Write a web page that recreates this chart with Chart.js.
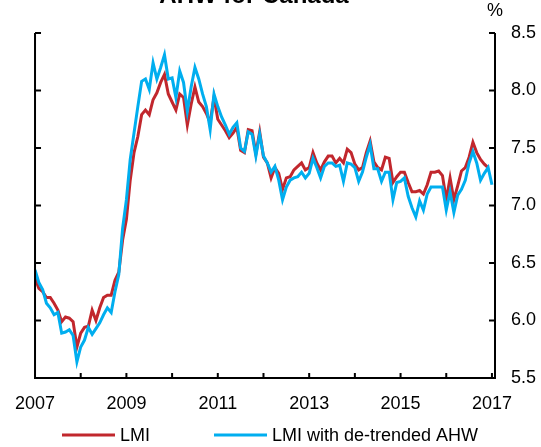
<!DOCTYPE html>
<html>
<head>
<meta charset="utf-8">
<script src="https://cdn.jsdelivr.net/npm/chart.js@4/dist/chart.umd.min.js"></script>
<style>
  html, body { margin: 0; padding: 0; background: #fff; }
</style>
</head>
<body>
<canvas id="chart" width="541" height="447"></canvas>
<script>
'use strict'

const FONT = '"Liberation Sans", Arial, sans-serif';

// monthly, Jan 2007 onwards
const startYear = 2007;
const xTickYears = [2007, 2008, 2009, 2010, 2011, 2012, 2013, 2014, 2015, 2016, 2017];
const yTicks = [5.5, 6.0, 6.5, 7.0, 7.5, 8.0, 8.5];

const lmi = [
  6.37, 6.28, 6.25, 6.20, 6.20, 6.15, 6.09, 5.99, 6.03, 6.02, 5.99, 5.77,
  5.89, 5.94, 5.95, 6.09, 6.00, 6.11, 6.20, 6.22, 6.22, 6.35, 6.42, 6.70,
  6.88, 7.22, 7.46, 7.60, 7.79, 7.83, 7.79, 7.92, 7.98, 8.07, 8.14, 7.97,
  7.90, 7.83, 7.97, 7.94, 7.70, 7.88, 8.03, 7.90, 7.86, 7.80, 7.72, 7.94,
  7.75, 7.70, 7.65, 7.59, 7.63, 7.68, 7.48, 7.46, 7.66, 7.65, 7.45, 7.64,
  7.42, 7.37, 7.24, 7.33, 7.28, 7.14, 7.24, 7.25, 7.31, 7.34, 7.37, 7.31,
  7.33, 7.46, 7.37, 7.31, 7.38, 7.43, 7.43, 7.37, 7.41, 7.37, 7.49, 7.46,
  7.36, 7.31, 7.33, 7.46, 7.56, 7.38, 7.33, 7.31, 7.42, 7.41, 7.20, 7.25,
  7.29, 7.29, 7.20, 7.12, 7.12, 7.13, 7.10, 7.18, 7.29, 7.29, 7.30, 7.26,
  7.05, 7.24, 7.05, 7.17, 7.30, 7.33, 7.42, 7.55, 7.46, 7.40, 7.36, 7.33
];

const lmiAhw = [
  6.44, 6.33, 6.27, 6.15, 6.11, 6.05, 6.07, 5.89, 5.90, 5.92, 5.87, 5.64,
  5.77, 5.83, 5.94, 5.88, 5.93, 5.98, 6.05, 6.11, 6.07, 6.25, 6.40, 6.80,
  7.05, 7.40, 7.63, 7.86, 8.08, 8.10, 8.01, 8.24, 8.10, 8.20, 8.31, 8.10,
  8.11, 7.94, 8.17, 8.07, 7.82, 8.03, 8.20, 8.10, 7.97, 7.86, 7.66, 7.97,
  7.86, 7.77, 7.70, 7.62, 7.68, 7.72, 7.50, 7.47, 7.64, 7.62, 7.43, 7.62,
  7.43, 7.37, 7.29, 7.34, 7.22, 7.05, 7.16, 7.22, 7.24, 7.25, 7.29, 7.24,
  7.28, 7.41, 7.33, 7.24, 7.34, 7.37, 7.37, 7.34, 7.35, 7.21, 7.37, 7.36,
  7.33, 7.21, 7.29, 7.42, 7.53, 7.32, 7.32, 7.21, 7.29, 7.29, 7.05, 7.20,
  7.21, 7.24, 7.08, 6.98, 6.90, 7.04, 6.96, 7.10, 7.16, 7.16, 7.16, 7.16,
  6.96, 7.12, 6.94, 7.09, 7.14, 7.22, 7.37, 7.47, 7.37, 7.22, 7.28, 7.33,
  7.18
];

const toPoints = arr => arr.map((v, i) => ({x: i, y: v}));

// axes with inward ticks, title, % unit and the legend
const decorations = {
  id: 'decorations',
  afterDatasetsDraw(chart) {
    const {ctx, chartArea: a, scales: {x, y}} = chart;
    ctx.save();
    ctx.strokeStyle = '#000';
    ctx.lineWidth = 2;
    ctx.beginPath();
    ctx.moveTo(a.left, a.top);
    ctx.lineTo(a.left, a.bottom);
    ctx.lineTo(a.right, a.bottom);
    ctx.lineTo(a.right, a.top);
    yTicks.forEach(v => {
      const py = y.getPixelForValue(v);
      ctx.moveTo(a.left, py);
      ctx.lineTo(a.left + 6, py);
      ctx.moveTo(a.right, py);
      ctx.lineTo(a.right - 6, py);
    });
    xTickYears.forEach(yr => {
      const px = x.getPixelForValue((yr - startYear) * 12);
      ctx.moveTo(px, a.bottom);
      ctx.lineTo(px, a.bottom - 5);
    });
    ctx.stroke();

    ctx.fillStyle = '#000';
    ctx.font = 'bold 24px ' + FONT;
    ctx.textAlign = 'center';
    ctx.textBaseline = 'alphabetic';
    ctx.fillText('AHW for Canada', 254, 3);

    ctx.font = '18px ' + FONT;
    ctx.fillText('%', a.right, 16);

    // legend
    ctx.textAlign = 'left';
    ctx.textBaseline = 'middle';
    ctx.lineWidth = 3;
    let lx = 62;
    const ly = 435;
    chart.data.datasets.forEach(ds => {
      ctx.strokeStyle = ds.borderColor;
      ctx.beginPath();
      ctx.moveTo(lx, ly);
      ctx.lineTo(lx + 53, ly);
      ctx.stroke();
      ctx.fillText(ds.label, lx + 58, ly + 1);
      lx += 58 + ctx.measureText(ds.label).width + 64;
    });
    ctx.restore();
  }
};

const ctx = document.getElementById('chart');

new Chart(ctx, {
  type: 'line',
  data: {
    datasets: [
      {
        label: 'LMI',
        data: toPoints(lmi),
        borderColor: '#C1272D',
        borderWidth: 3,
        pointRadius: 0,
        tension: 0,
        order: 1
      },
      {
        label: 'LMI with de-trended AHW',
        data: toPoints(lmiAhw),
        borderColor: '#00AEEF',
        borderWidth: 3,
        pointRadius: 0,
        tension: 0,
        order: 0
      }
    ]
  },
  options: {
    responsive: false,
    animation: false,
    layout: {padding: {left: 33, top: 33, right: 0, bottom: 0}},
    plugins: {
      legend: {display: false},
      tooltip: {enabled: false}
    },
    scales: {
      x: {
        type: 'linear',
        min: 0,
        max: 120.8,
        grid: {display: false, drawTicks: false},
        border: {display: false},
        afterBuildTicks: s => { s.ticks = xTickYears.map(yr => ({value: (yr - startYear) * 12})); },
        afterFit: s => { s.height = 69; },
        ticks: {
          autoSkip: false,
          maxRotation: 0,
          padding: 15,
          color: '#000',
          font: {family: FONT, size: 18},
          callback: v => (v % 24 === 0 ? String(startYear + v / 12) : '')
        }
      },
      y: {
        position: 'right',
        min: 5.5,
        max: 8.5,
        grid: {display: false, drawTicks: false},
        border: {display: false},
        afterFit: s => { s.width = 46; },
        ticks: {
          stepSize: 0.5,
          padding: 16,
          color: '#000',
          font: {family: FONT, size: 18},
          callback: v => v.toFixed(1)
        }
      }
    }
  },
  plugins: [decorations]
});
</script>
</body>
</html>
